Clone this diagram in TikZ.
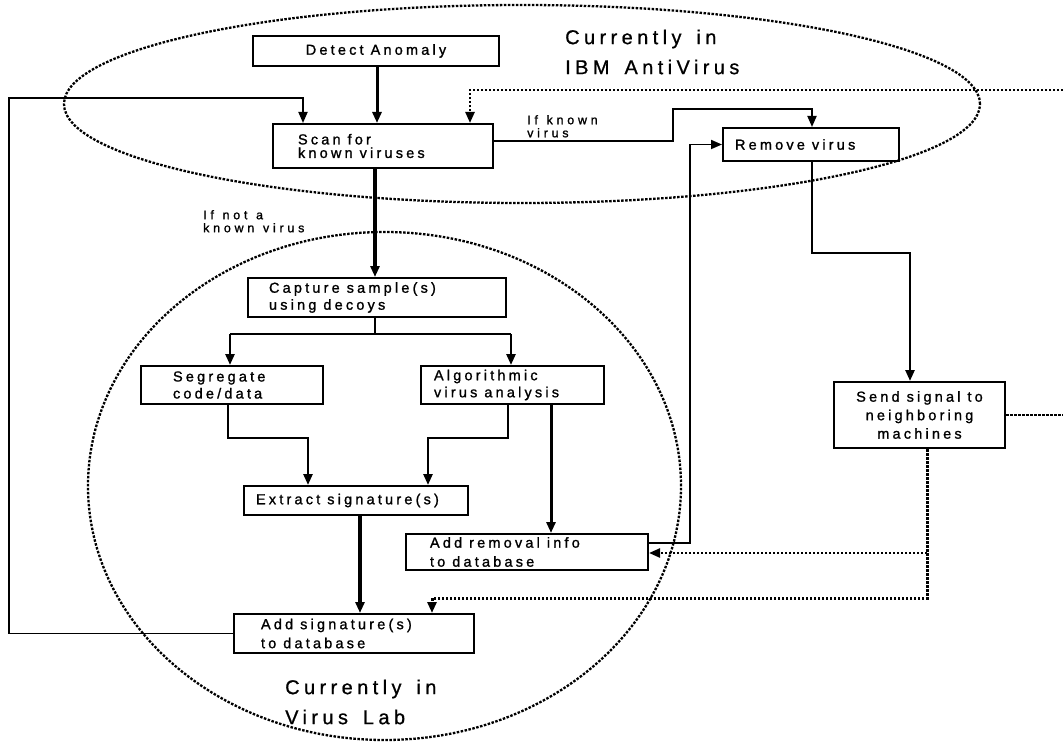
\documentclass[tikz,border=0pt]{standalone}
\usepackage{fontspec}
\setmainfont{Liberation Sans}
\newfontfamily\boxfont[LetterSpace=22,FakeBold=1.2]{Liberation Sans}
\newfontfamily\lblfont[LetterSpace=30,WordSpace=1.2,FakeBold=1.2]{Liberation Sans}
\newfontfamily\bigfont[LetterSpace=22,WordSpace=1.5,FakeBold=0.8]{Liberation Sans}
\usetikzlibrary{arrows.meta}
\begin{document}
\begin{tikzpicture}[x=1pt,y=-1pt,
  box/.style={draw, line width=2pt, anchor=north west, inner ysep=0pt, align=left,
    font=\boxfont\fontsize{14.5}{17}\selectfont,
    execute at begin node={\spaceskip=7pt plus 1pt\relax}},
  arr/.style={line width=#1, -{Triangle[length=11pt,width=9pt]}},
  arr/.default=2.5pt,
  dots/.style={line width=2.3pt, dash pattern=on 2.5pt off 1.5pt},
  lbl/.style={anchor=north west, inner sep=0pt, align=left, font=\lblfont\fontsize{12.5}{13}\selectfont},
  big/.style={anchor=west, inner sep=0pt, align=left, font=\bigfont\fontsize{20}{30}\selectfont}
]
\useasboundingbox (0,0) rectangle (1063,746);
% regions
\draw[dots] (522,104) ellipse [x radius=458pt, y radius=99pt];
\draw[dots] (384.5,486) ellipse [x radius=296.5pt, y radius=254pt];
% boxes
\node[box, minimum width=246pt, minimum height=30pt, align=center] (detect) at (252,35) {Detect Anomaly};
\node[box, text width=170pt, inner xsep=25pt, minimum height=44pt, font=\boxfont\fontsize{14.5}{13.5}\selectfont] (scan) at (272,123) {Scan for\\known viruses\\[3pt]};
\node[box, text width=152pt, inner xsep=12pt, minimum height=33pt] (remove) at (722,127) {Remove virus};
\node[box, text width=216pt, inner xsep=21pt, minimum height=39pt] (capture) at (247,277) {Capture sample(s)\\using decoys};
\node[box, text width=118pt, inner xsep=32pt, minimum height=38pt] (segregate) at (140,365) {Segregate\\code/data};
\node[box, text width=157pt, inner xsep=13pt, minimum height=38pt] (algo) at (420,365) {Algorithmic\\virus analysis};
\node[box, text width=200pt, inner xsep=12pt, minimum height=29pt] (extract) at (243,485) {Extract signature(s)};
\node[box, text width=194pt, inner xsep=24pt, minimum height=36pt, font=\boxfont\fontsize{14.5}{19}\selectfont] (addrem) at (405,533) {Add removal info\\to database};
\node[box, text width=186pt, inner xsep=27pt, minimum height=39pt, font=\boxfont\fontsize{14.5}{19}\selectfont] (addsig) at (233,613) {Add signature(s)\\to database};
\node[box, minimum width=171pt, minimum height=66pt, align=center, font=\boxfont\fontsize{14.5}{18.5}\selectfont] (send) at (833,381) {Send signal to\\neighboring\\machines};
% free ends
\coordinate (inR) at (1063,90);
\coordinate (outR) at (1063,415);
\coordinate (split) at (375,334);
% connectors
\draw[arr=3pt] (377,0 |- detect.south) -- (377,0 |- scan.north);
\draw[arr=1.8pt] (addsig.west) -- (9,0 |- addsig.west) -- (9,98) -- (303,98) -- (303,0 |- scan.north);
\draw[arr=2.5pt, dots] (inR) -- (470,90) -- (470,0 |- scan.north);
\draw[arr=3.5pt] (375,0 |- scan.south) -- (375,0 |- capture.north);
\draw[arr=1.8pt] (scan.east |- 0,141) -- (673,141) -- (673,109) -- (812,109) -- (812,0 |- remove.north);
\draw[arr=2.5pt] (812,0 |- remove.south) -- (812,253) -- (910,253) -- (910,0 |- send.north);
\draw[line width=2.5pt] (375,0 |- capture.south) -- (split);
\draw[line width=2.5pt] (230,334) -- (511,334);
\draw[arr=2.5pt] (230,334) -- (230,0 |- segregate.north);
\draw[arr=2.5pt] (511,334) -- (511,0 |- algo.north);
\draw[arr=2.5pt] (228,0 |- segregate.south) -- (228,438) -- (308,438) -- (308,0 |- extract.north);
\draw[arr=2.5pt] (508,0 |- algo.south) -- (508,438) -- (428,438) -- (428,0 |- extract.north);
\draw[arr=3pt] (551,0 |- algo.south) -- (551,0 |- addrem.north);
\draw[arr=3.5pt] (360,0 |- extract.south) -- (360,0 |- addsig.north);
\draw[arr=1.8pt] (addrem.east |- 0,543) -- (690,543) -- (690,0 |- remove.west) -- (remove.west);
\draw[arr=2.5pt, dots, line width=3pt] (927,0 |- send.south) -- (927,598) -- (432,598) -- (432,0 |- addsig.north);
\draw[arr=2.5pt, dots] (927,553) -- (addrem.east |- 0,553);
\draw[dots] (send.east |- 0,415) -- (outR);
% labels
\node[lbl] (ifnot) at (203,210) {If not a\\known virus};
\node[lbl] (ifknown) at (527,115) {If known\\virus};
\node[big] (ibm) at (565,52) {Currently in\\IBM AntiVirus};
\node[big] (lab) at (285,702) {Currently in\\Virus Lab};
\end{tikzpicture}
\end{document}
